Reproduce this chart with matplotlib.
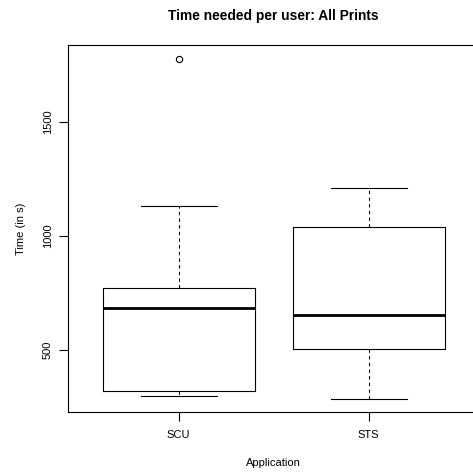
import matplotlib
matplotlib.use("Agg")
import matplotlib.pyplot as plt

plt.rcParams['font.family'] = ['Liberation Sans', 'DejaVu Sans']

apps = ["SCU", "STS"]
whislo = [297, 285]
q1 = [318, 501]
med = [683, 653]
q3 = [769, 1038]
whishi = [1128, 1207]
fliers = [[1776], []]

stats = []
for i in range(len(apps)):
    stats.append({"label": apps[i], "whislo": whislo[i], "q1": q1[i], "med": med[i],
                  "q3": q3[i], "whishi": whishi[i], "fliers": fliers[i]})

W, H = 473, 474
fig = plt.figure(figsize=(W / 100, H / 100), dpi=100)
left, right, top, bottom = 68.3, 479, 45, 412.3
ax = fig.add_axes([left / W, (H - bottom) / H, (right - left) / W, (bottom - top) / H])

ax.bxp(stats, positions=[1, 2], widths=0.8, showfliers=True,
       boxprops=dict(color="black", linewidth=0.8),
       medianprops=dict(color="black", linewidth=2.0),
       whiskerprops=dict(color="black", linewidth=0.8, linestyle=(0, (3, 3))),
       capprops=dict(color="black", linewidth=0.8),
       flierprops=dict(marker="o", markersize=4.5, markerfacecolor="none",
                       markeredgecolor="black", markeredgewidth=0.8),
       capwidths=0.4)

ax.set_xlim(0.42, 2.58)
ax.set_ylim(225.4, 1836)
ax.set_yticks([500, 1000, 1500])
ax.set_yticklabels(["500", "1000", "1500"], rotation=90, va="center")
ax.set_xticks([1, 2])
ax.set_xticklabels(apps)
ax.tick_params(axis="both", labelsize=8, length=6.5, width=0.8)
ax.tick_params(axis="x", pad=6)
ax.tick_params(axis="y", pad=4.5)
for s in ax.spines.values():
    s.set_linewidth(0.8)

ax.set_title("Time needed per user: All Prints", fontsize=9.9, fontweight="bold", pad=18)
ax.set_xlabel("Application", fontsize=8, labelpad=13)
ax.set_ylabel("Time (in s)", fontsize=8, labelpad=12)

fig.savefig("out.png", dpi=100)
